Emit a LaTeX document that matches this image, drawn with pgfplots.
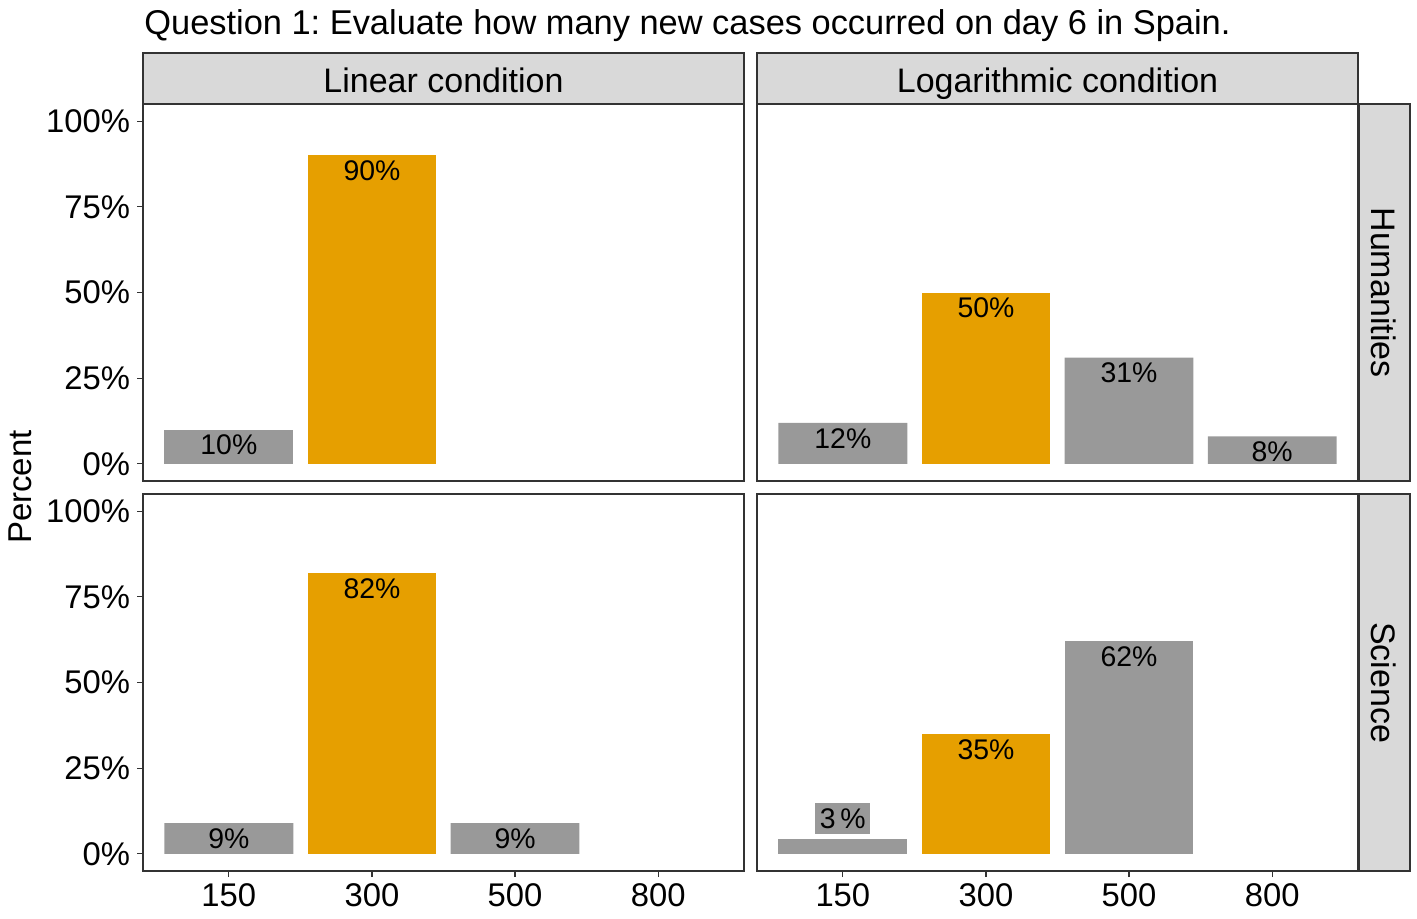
\documentclass[border=0pt]{standalone}
\usepackage{fontspec}
\setmainfont{Liberation Sans}
\usepackage{pgfplots}
\pgfplotsset{compat=1.18}
\frenchspacing
\definecolor{cor}{HTML}{E69F00}
\definecolor{gry}{HTML}{999999}
\definecolor{stripc}{HTML}{D9D9D9}
\definecolor{g20}{HTML}{333333}
\newcommand{\tickfont}{\fontsize{16.4}{19}\selectfont}
\newcommand{\labfont}{\fontsize{14.2}{17}\selectfont}
\newcommand{\stripfont}{\fontsize{17}{20}\selectfont}
\pgfplotsset{
  panel/.style={
    anchor=north west, scale only axis, width=300.5pt, height=188.5pt,
    xmin=0.4, xmax=4.6, ymin=-5, ymax=105,
    axis line style={g20, line width=0.7pt},
    tick align=outside, major tick length=3pt,
    tick style={g20, line width=0.6pt},
    xtick={1,2,3,4}, xticklabels={150,300,500,800},
    ytick={0,25,50,75,100}, yticklabels={0\%,25\%,50\%,75\%,100\%},
    ticklabel style={font=\tickfont, text=black},
    xtick pos=bottom, ytick pos=left,
    clip=false,
    /pgf/number format/assume math mode=true,
  },
  nox/.style={xtick=\empty},
  noy/.style={ytick=\empty},
  bars/.style={ybar, bar width=0.9, bar shift=0pt, draw=none,
    point meta=explicit,
    nodes near coords={\pgfmathprintnumber[assume math mode=true]{\pgfplotspointmeta}\%},
    nodes near coords align={anchor=center},
    every node near coord/.style={font=\labfont, text=black, anchor=center, yshift=-7.75pt}},
  gbar/.style={bars, fill=gry},
  obar/.style={bars, fill=cor},
}
\begin{document}
\begin{tikzpicture}
\path (0,0) rectangle (708.5pt,-459pt);
% title
\node[anchor=base west, inner sep=0pt, font=\fontsize{17.2}{20}\selectfont] at (72pt,-17pt) {Question 1: Evaluate how many new cases occurred on day 6 in Spain.};
% y label
\node[rotate=90, inner sep=0pt, font=\fontsize{16.5}{19}\selectfont] at (10pt,-243.5pt) {Percent};
% strips
\draw[fill=stripc, draw=g20, line width=0.7pt] (71.5pt,-26.5pt) rectangle (372pt,-52pt);
\node[font=\stripfont, anchor=base, inner sep=0pt] at (221.75pt,-46pt) {Linear condition};
\draw[fill=stripc, draw=g20, line width=0.7pt] (378.5pt,-26.5pt) rectangle (679pt,-52pt);
\node[font=\stripfont, anchor=base, inner sep=0pt] at (528.75pt,-46pt) {Logarithmic condition};
\draw[fill=stripc, draw=g20, line width=0.7pt] (679.5pt,-52pt) rectangle (705pt,-240.5pt);
\node[rotate=-90, font=\stripfont] at (692pt,-146.25pt) {Humanities};
\draw[fill=stripc, draw=g20, line width=0.7pt] (679.5pt,-247pt) rectangle (705pt,-435.5pt);
\node[rotate=-90, font=\stripfont] at (692pt,-341.25pt) {Science};

% top-left
\begin{axis}[panel, nox, at={(71.5pt,-52pt)}]
\addplot[gbar] coordinates {(1,10)[10]};
\addplot[obar] coordinates {(2,90)[90]};
\end{axis}
% top-right
\begin{axis}[panel, nox, noy, at={(378.5pt,-52pt)}]
\addplot[gbar] coordinates {(1,12)[12] (3,31)[31] (4,8)[8]};
\addplot[obar] coordinates {(2,50)[50]};
\end{axis}
% bottom-left
\begin{axis}[panel, at={(71.5pt,-247pt)}]
\addplot[gbar] coordinates {(1,9)[9] (3,9)[9]};
\addplot[obar] coordinates {(2,82)[82]};
\end{axis}
% bottom-right
\begin{axis}[panel, noy, at={(378.5pt,-247pt)}]
\addplot[ybar, bar width=0.9, bar shift=0pt, draw=none, fill=gry] coordinates {(1,4.2)};
\addplot[gbar] coordinates {(3,62)[62]};
\addplot[obar] coordinates {(2,35)[35]};
\addplot[ybar, bar width=0.9, bar shift=0pt, draw=none, fill=none,
  point meta=explicit, nodes near coords={\pgfmathprintnumber[assume math mode=true]{\pgfplotspointmeta}\,\%},
  nodes near coords align={anchor=center},
  every node near coord/.style={font=\labfont, text=black, anchor=center, fill=gry,
    minimum width=27.5pt, minimum height=15.5pt, inner sep=0pt}]
  coordinates {(1,10.4)[3]};
\end{axis}
\end{tikzpicture}
\end{document}
